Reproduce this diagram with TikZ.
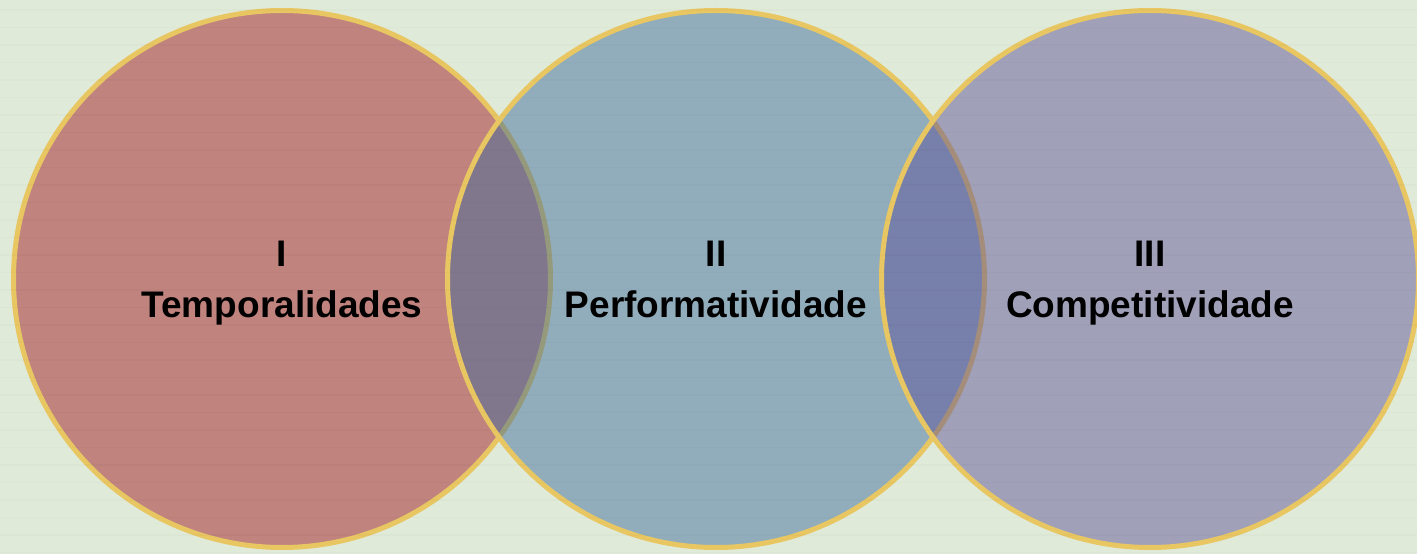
\documentclass[tikz,border=0pt]{standalone}
\usepackage{fontspec}
\setmainfont{Liberation Sans}
\definecolor{bgcol}{RGB}{224,234,216}
\definecolor{rimcol}{RGB}{232,198,98}
\definecolor{redcol}{RGB}{192,131,126}
\definecolor{bluecol}{RGB}{57,106,156}
\definecolor{violetcol}{RGB}{92,80,152}

\begin{document}
\begin{tikzpicture}[x=1pt,y=1pt,
    ring/.style={circle,draw=rimcol,line width=5pt,inner sep=0pt,minimum size=537pt},
    numtext/.style={anchor=base,font=\bfseries\fontsize{37}{40}\selectfont},
    nametext/.style={anchor=base,font=\bfseries\fontsize{37}{40}\selectfont}]
\useasboundingbox (0,0) rectangle (1417,554);
\fill[bgcol] (0,0) rectangle (1417,554);

\node (c1) [ring,fill=redcol] at (282,275) {};
\node (c2) [ring,fill=bluecol,fill opacity=.47] at (716,275) {};
\node (c3) [ring,fill=violetcol,fill opacity=.48] at (1150,275) {};

\foreach \k in {0,...,31}
    \draw[black,opacity=.015,line width=1.5pt] (0,544-17.5*\k) -- ++(1417,0);

\node (n1) [numtext] at ([yshift=12pt]c1.center) {I};
\node (t1) [nametext] at ([yshift=-39pt]c1.center) {Temporalidades};
\node (n2) [numtext] at ([yshift=12pt]c2.center) {II};
\node (t2) [nametext] at ([yshift=-39pt]c2.center) {Performatividade};
\node (n3) [numtext] at ([yshift=12pt]c3.center) {III};
\node (t3) [nametext] at ([yshift=-39pt]c3.center) {Competitividade};
\end{tikzpicture}
\end{document}
